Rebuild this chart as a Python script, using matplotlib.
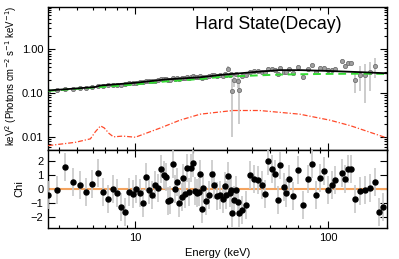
import numpy as np
import matplotlib
matplotlib.use('Agg')
from matplotlib import pyplot as plt
from matplotlib.ticker import FixedLocator, LogLocator, NullFormatter, FixedFormatter

# energies of the binned data (keV)
energy = [3.53, 3.93, 4.34, 4.76, 5.14, 5.55, 5.96, 6.38, 6.80, 7.19,
          7.63, 8.04, 8.46, 8.88, 9.31, 9.73, 10.12, 10.58, 10.96, 11.36,
          11.82, 12.20, 12.65, 13.11, 13.56, 14.02, 14.35, 14.70, 15.18, 15.61,
          16.06, 16.45, 16.90, 17.38, 17.73, 18.16, 18.60, 19.05, 19.51, 19.91,
          20.39, 20.88, 21.38, 21.64, 22.06, 22.51, 23.13, 24.10, 24.85, 25.66,
          26.60, 27.47, 28.34, 29.02, 29.37, 30.08, 30.96, 31.33, 31.70, 32.59,
          33.38, 33.90, 34.47, 35.55, 37.48, 39.31, 41.38, 43.40, 45.14, 46.99,
          48.88, 50.85, 52.71, 54.62, 56.41, 58.67, 60.58, 62.57, 65.62, 69.94,
          73.96, 78.11, 82.34, 86.68, 90.90, 95.35, 100.0, 104.5, 108.7, 117.2,
          122.1, 126.5, 131.1, 138.0, 146.5, 155.5, 164.5, 173.8, 182.3, 191.1]

# unfolded spectrum E^2 F(E) (last two bins fall off the upper panel)
flux = [0.114, 0.119, 0.126, 0.127, 0.130, 0.131, 0.136, 0.144, 0.149, 0.150,
        0.155, 0.157, 0.157, 0.159, 0.166, 0.169, 0.173, 0.175, 0.175, 0.185,
        0.186, 0.187, 0.194, 0.196, 0.207, 0.208, 0.210, 0.202, 0.204, 0.222,
        0.213, 0.218, 0.211, 0.216, 0.225, 0.220, 0.234, 0.225, 0.237, 0.241,
        0.228, 0.228, 0.230, 0.245, 0.218, 0.237, 0.232, 0.241, 0.262, 0.255,
        0.248, 0.253, 0.252, 0.268, 0.262, 0.360, 0.265, 0.272, 0.110, 0.200,
        0.280, 0.190, 0.120, 0.250, 0.260, 0.310, 0.320, 0.320, 0.310, 0.300,
        0.360, 0.350, 0.340, 0.275, 0.370, 0.310, 0.310, 0.350, 0.285, 0.400,
        0.230, 0.350, 0.430, 0.300, 0.370, 0.380, 0.330, 0.340, 0.350, 0.550,
        0.420, 0.480, 0.500, 0.200, 0.260, 0.260, 0.310, 0.420, None, None]

flux_err = [0.002, 0.002, 0.002, 0.002, 0.002, 0.002, 0.002, 0.002, 0.002, 0.002,
            0.003, 0.003, 0.003, 0.003, 0.003, 0.003, 0.003, 0.003, 0.003, 0.003,
            0.004, 0.004, 0.004, 0.004, 0.004, 0.004, 0.004, 0.004, 0.004, 0.004,
            0.005, 0.005, 0.005, 0.005, 0.005, 0.005, 0.005, 0.005, 0.005, 0.005,
            0.008, 0.008, 0.008, 0.008, 0.008, 0.008, 0.008, 0.010, 0.010, 0.010,
            0.010, 0.010, 0.010, 0.010, 0.010, 0.060, 0.010, 0.010, 0.100, 0.060,
            0.015, 0.060, 0.100, 0.040, 0.020, 0.020, 0.020, 0.020, 0.020, 0.020,
            0.025, 0.025, 0.025, 0.025, 0.025, 0.025, 0.025, 0.025, 0.025, 0.030,
            0.030, 0.030, 0.040, 0.040, 0.040, 0.040, 0.040, 0.040, 0.040, 0.050,
            0.050, 0.050, 0.050, 0.100, 0.150, 0.200, 0.200, 0.200, None, None]

# residuals in units of sigma
chi = [-0.40, -0.05, 1.58, 0.48, 0.31, -0.19, 0.36, 1.15, -0.22, -0.74,
       0.02, -0.27, -1.27, -1.65, -0.24, -0.38, 0.02, -0.29, -1.03, 0.84,
       -0.05, -0.45, 0.31, 0.05, 1.46, 0.99, 0.89, -0.84, -0.79, 1.82,
       -0.02, 0.48, -0.98, -0.55, 0.81, -0.36, 1.51, -0.24, 1.51, 1.87,
       -0.12, -0.31, -0.22, 1.10, -1.44, 0.07, -0.84, -0.41, 1.08, 0.31,
       -0.53, -0.43, -0.74, 0.22, -0.41, 0.94, -0.27, -0.09, -1.75, -0.77,
       -0.09, -0.94, -1.75, -1.53, -1.13, 1.01, 0.70, 0.67, 0.31, -0.36,
       2.01, 1.46, 1.10, -0.81, 1.70, 0.12, -0.27, 0.72, -0.53, 1.39,
       -1.17, 0.72, 1.80, -0.45, 0.81, 1.27, -0.05, 0.31, 0.63, 1.17,
       0.70, 1.46, 1.46, -0.74, -0.17, -0.09, 0.09, 0.50, -1.65, -1.32]

# total model
model_e = [3.54, 5.0, 6.2, 6.6, 10.0, 14.3, 21.7, 27.6, 44.0, 56.0, 72.0, 102.0, 150.0, 200.0]
model_f = [0.115, 0.128, 0.138, 0.149, 0.172, 0.205, 0.230, 0.260, 0.310, 0.335, 0.335, 0.320, 0.300, 0.284]

# comptonised continuum
comp_e = [3.54, 10.0, 14.3, 21.7, 27.6, 44.0, 56.0, 72.0, 102.0, 150.0, 200.0]
comp_f = [0.112, 0.158, 0.185, 0.210, 0.235, 0.255, 0.265, 0.270, 0.275, 0.278, 0.275]

# reflection component
refl_e = [3.54, 4.89, 5.85, 6.2, 6.6, 6.9, 7.3, 7.7, 8.6, 10.0, 13.5, 17.0, 21.7, 32.0, 44.0, 71.0, 102.0, 130.0, 200.0]
refl_f = [0.0063, 0.0075, 0.009, 0.013, 0.0178, 0.016, 0.012, 0.0100, 0.0104, 0.0098,
          0.016, 0.024, 0.033, 0.040, 0.040, 0.033, 0.024, 0.018, 0.0095]

plt.rcParams['font.family'] = ['Liberation Sans', 'DejaVu Sans']

fig = plt.figure(figsize=(3.99, 2.59), dpi=100)
ax1 = fig.add_axes([0.121, 0.4208, 0.8477, 0.551])
ax2 = fig.add_axes([0.121, 0.1197, 0.8477, 0.3011], sharex=ax1)

flux_arr = np.array(flux, dtype=float)
ferr_arr = np.array(flux_err, dtype=float)
ax1.errorbar(energy, flux_arr, yerr=ferr_arr, fmt='o', ms=3, mfc='#a0a0a0', mec='#707070',
             mew=0.6, ecolor='#c4c4c4', elinewidth=1.2, capsize=0, zorder=2)
ax1.plot(model_e, model_f, color='black', lw=1.3, zorder=4)
ax1.plot(comp_e, comp_f, color='#33dd33', lw=1.4, ls=(0, (4, 2.5)), zorder=3)
ax1.plot(refl_e, refl_f, color='#ff4a2a', lw=0.9, ls=(0, (4, 1.5, 1, 1.5)), zorder=3)

ax1.set_xscale('log')
ax1.set_yscale('log')
ax1.set_xlim(3.54, 200)
ax1.set_ylim(0.005, 9.15)
ax1.yaxis.set_major_locator(FixedLocator([0.01, 0.1, 1.0]))
ax1.yaxis.set_major_formatter(FixedFormatter(['0.01', '0.10', '1.00']))
ax1.yaxis.set_minor_locator(LogLocator(base=10, subs=np.arange(2, 10)))
ax1.yaxis.set_minor_formatter(NullFormatter())
ax1.set_ylabel('keV$^2$ (Photons cm$^{-2}$ s$^{-1}$ keV$^{-1}$)', fontsize=6.9)
ax1.yaxis.set_label_coords(-0.088, 0.52)
ax1.text(0.65, 0.876, 'Hard State(Decay)', transform=ax1.transAxes, fontsize=12.7,
         ha='center', va='center')
plt.setp(ax1.get_xticklabels(), visible=False)

ax2.errorbar(energy, chi, yerr=1.0, fmt='o', ms=3.6, color='black',
             ecolor='#c8c8c8', elinewidth=1.2, capsize=0, zorder=3)
ax2.axhline(0, color='#f4a460', lw=1.5, zorder=2)
ax2.set_ylim(-2.8, 2.8)
ax2.set_yticks([-2, -1, 0, 1, 2])
ax2.set_yticklabels(['\u22122', '\u22121', '0', '1', '2'])
ax2.xaxis.set_major_locator(FixedLocator([10, 100]))
ax2.xaxis.set_major_formatter(FixedFormatter(['10', '100']))
ax2.xaxis.set_minor_locator(LogLocator(base=10, subs=np.arange(2, 10)))
ax2.xaxis.set_minor_formatter(NullFormatter())
ax2.set_xlabel('Energy (keV)', fontsize=8)
ax2.set_ylabel('Chi', fontsize=8)
ax2.yaxis.set_label_coords(-0.07, 0.5)

for ax in (ax1, ax2):
    ax.tick_params(which='both', direction='in', top=True, right=True, labelsize=8, width=0.8)
    ax.tick_params(which='major', length=5)
    ax.tick_params(which='minor', length=2.5)
    for s in ax.spines.values():
        s.set_linewidth(1.0)

fig.savefig('out.png', dpi=100)
